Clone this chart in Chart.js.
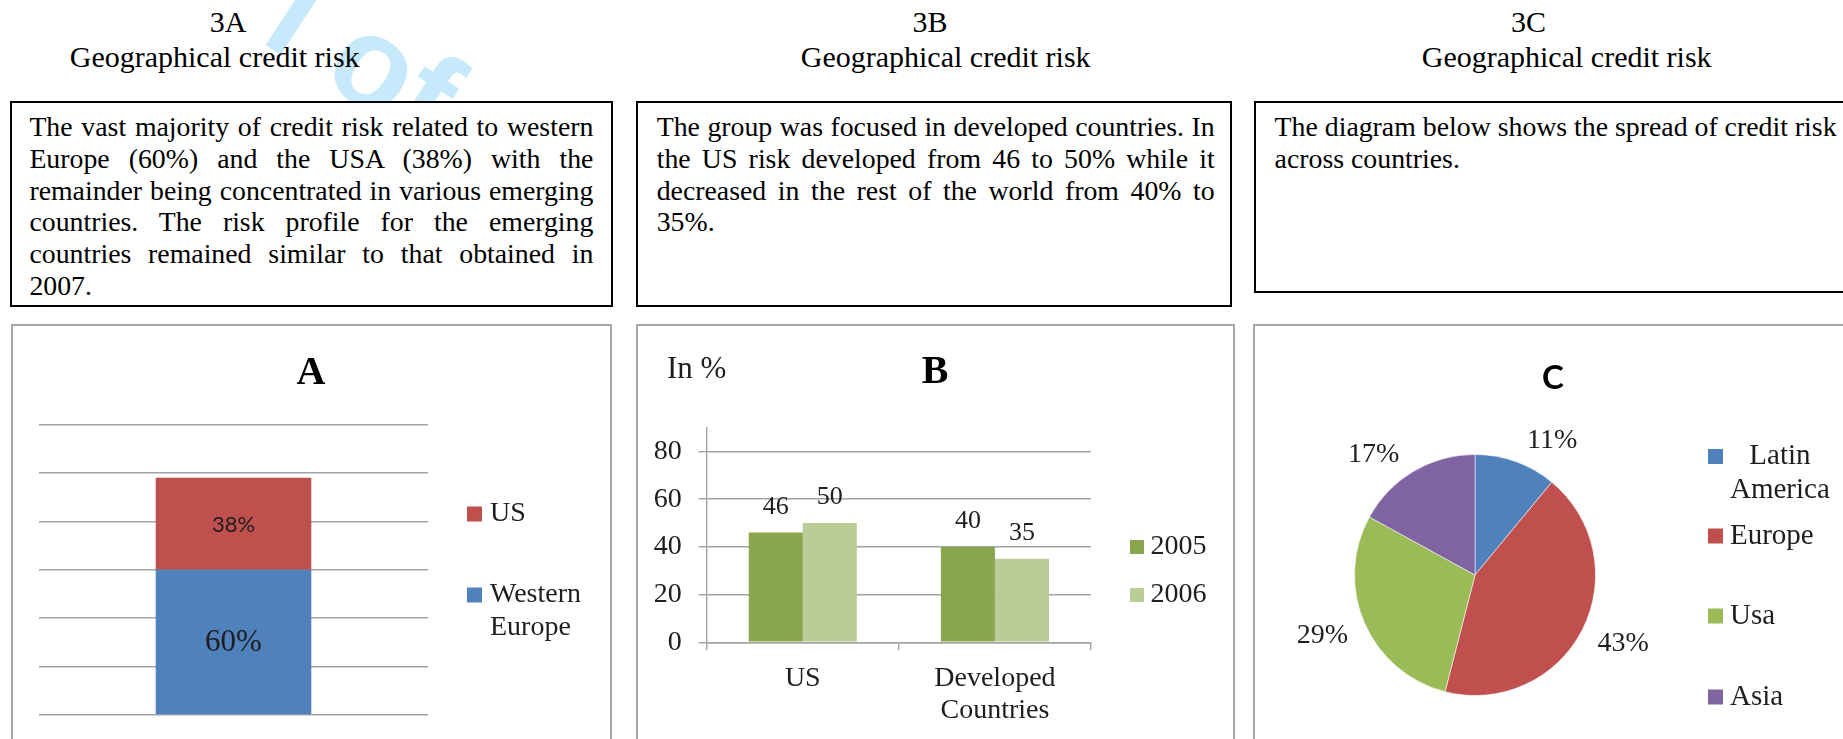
<!DOCTYPE html>
<html>
<head>
<meta charset="utf-8">
<title>Geographical credit risk</title>
<script src="https://cdn.jsdelivr.net/npm/chart.js@4.4.1/dist/chart.umd.min.js"></script>
<style>
html, body { margin:0; padding:0; background:#fff; }
#page { position:relative; width:1843px; height:739px; overflow:hidden; background:#fff;
        font-family:"Liberation Serif","Times New Roman",serif; color:#000; }
.wm { position:absolute; left:317.7px; top:-52px; font-family:"Liberation Sans", Arial, sans-serif; font-weight:bold;
      font-size:130px; line-height:130px; white-space:pre; color:#c6eafb; transform-origin:0 0; transform:rotate(33deg); }
.hd { position:absolute; font-size:30px; line-height:30px; white-space:nowrap; transform:translateX(-50%); }
.tb { position:absolute; box-sizing:border-box; border:2px solid #000; background:#fff;
      font-size:27.8px; line-height:31.7px; }
.cb { position:absolute; box-sizing:border-box; border:2px solid #a6a6a6; background:#fff; }
canvas { position:absolute; display:block; }
</style>
</head>
<body>
<div id="page">
  <div class="wm">l of</div>
  <div class="hd" style="left:228px;top:7px">3A</div>
  <div class="hd" style="left:214.7px;top:41.6px">Geographical credit risk</div>
  <div class="hd" style="left:930px;top:7px">3B</div>
  <div class="hd" style="left:945.7px;top:41.6px">Geographical credit risk</div>
  <div class="hd" style="left:1528.5px;top:7px">3C</div>
  <div class="hd" style="left:1566.7px;top:41.6px">Geographical credit risk</div>

  <div class="tb" style="left:10px;top:101px;width:603px;height:206px;padding:8.3px 17.6px 0 17.4px;text-align:justify">The vast majority of credit risk related to western Europe (60%) and the USA (38%) with the remainder being concentrated in various emerging countries. The risk profile for the emerging countries remained similar to that obtained in 2007.</div>
  <div class="tb" style="left:636px;top:101px;width:596px;height:206px;padding:8.3px 15.3px 0 18.7px;text-align:justify">The group was focused in developed countries. In the US risk developed from 46 to 50% while it decreased in the rest of the world from 40% to 35%.</div>
  <div class="tb" style="left:1254px;top:101px;width:700px;height:192px;padding:8.3px 77.4px 0 18.6px;text-align:left">The diagram below shows the spread of credit risk across countries.</div>

  <div class="cb" style="left:11px;top:324px;width:601px;height:440px"></div>
  <div class="cb" style="left:636px;top:324px;width:599px;height:440px"></div>
  <div class="cb" style="left:1253px;top:324px;width:700px;height:440px"></div>

  <canvas id="chartA" width="597" height="413" style="left:13px;top:326px;width:597px;height:413px"></canvas>
  <canvas id="chartB" width="595" height="413" style="left:638px;top:326px;width:595px;height:413px"></canvas>
  <canvas id="chartC" width="588" height="413" style="left:1255px;top:326px;width:588px;height:413px"></canvas>
</div>
<script>
// ---------------- data ----------------
// Chart A : stacked bar
const aCategories = ['Credit risk'];
const aSeriesNames = ['Western Europe', 'US'];
const aWesternEurope = [60];
const aUS = [38];
const aGridValues = [0, 20, 40, 60, 80, 100, 120];

// Chart B : grouped bar
const bCategories = ['US', ['Developed', 'Countries']];
const bSeriesNames = ['2005', '2006'];
const b2005 = [46, 40];
const b2006 = [50, 35];
const bTickValues = [0, 20, 40, 60, 80];

// Chart C : pie
const cRegions = ['Latin America', 'Europe', 'Usa', 'Asia'];
const cShares = [11, 43, 29, 17];

// ---------------- styles ----------------
const SERIF = '"Liberation Serif", "Times New Roman", serif';
const SANS = 'Lato, "Open Sans", sans-serif';
const TEXT = '#1e1e1e';
const GRID = '#a3a3a3';
const BLUE = '#4f81bd', RED = '#c0504d', GREEN = '#9bbb59', PURPLE = '#8064a2';
const DARKGREEN = '#89a54e', LIGHTGREEN = '#b9cd96';
// small angular nudges (degrees) for the outside pie labels, like the hand-placed originals
const cLabelShiftDeg = [8, 0, 0, -7];

Chart.defaults.animation = false;
Chart.defaults.responsive = false;
Chart.defaults.devicePixelRatio = 1;
Chart.defaults.plugins.legend.display = false;
Chart.defaults.plugins.tooltip.enabled = false;

function wrapWords(ctx, text, maxW) {
  const words = text.split(' ');
  const lines = [];
  let cur = '';
  words.forEach(w => {
    const t = cur ? cur + ' ' + w : w;
    if (cur && ctx.measureText(t).width > maxW) { lines.push(cur); cur = w; }
    else cur = t;
  });
  if (cur) lines.push(cur);
  return lines;
}

function drawLegend(ctx, items, o) {
  ctx.save();
  ctx.font = o.font;
  ctx.textBaseline = 'middle';
  items.forEach((it, i) => {
    const y = o.ys[i];
    ctx.fillStyle = it.color;
    ctx.fillRect(o.sqX, y - o.sq / 2, o.sq, o.sq);
    ctx.fillStyle = TEXT;
    const lines = wrapWords(ctx, it.text, o.wrap);
    const blockW = Math.max(...lines.map(l => ctx.measureText(l).width));
    lines.forEach((l, k) => {
      if (o.center) {
        ctx.textAlign = 'center';
        ctx.fillText(l, o.txtX + blockW / 2, y + k * o.lh);
      } else {
        ctx.textAlign = 'left';
        ctx.fillText(l, o.txtX, y + k * o.lh);
      }
    });
  });
  ctx.restore();
}

// ---------------- Chart A ----------------
const aLabelFonts = ['31px ' + SERIF, '22px ' + SANS];
const aDeco = {
  id: 'aDeco',
  afterDatasetsDraw(chart) {
    const ctx = chart.ctx;
    ctx.save();
    ctx.textAlign = 'center';
    ctx.textBaseline = 'middle';
    ctx.fillStyle = TEXT;
    chart.data.datasets.forEach((ds, i) => {
      chart.getDatasetMeta(i).data.forEach((bar, j) => {
        const p = bar.getProps(['x', 'y', 'base'], true);
        ctx.font = aLabelFonts[i];
        ctx.fillText(ds.data[j] + '%', p.x, (p.y + p.base) / 2 + 1);
      });
    });
    ctx.restore();
  },
  afterDraw(chart) {
    const ctx = chart.ctx;
    ctx.save();
    ctx.font = 'bold 40px ' + SERIF;
    ctx.fillStyle = '#000';
    ctx.textAlign = 'center';
    ctx.textBaseline = 'alphabetic';
    ctx.fillText('A', 298, 58);
    ctx.restore();
    const ds = chart.data.datasets;
    drawLegend(ctx, [
      { text: ds[1].label, color: ds[1].backgroundColor },
      { text: ds[0].label, color: ds[0].backgroundColor }
    ], { font: '28px ' + SERIF, sqX: 454, sq: 15, txtX: 477, ys: [188, 269], lh: 33, wrap: 115, center: false });
  }
};

new Chart(document.getElementById('chartA'), {
  type: 'bar',
  data: {
    labels: aCategories,
    datasets: [
      { label: aSeriesNames[0], data: aWesternEurope, backgroundColor: BLUE },
      { label: aSeriesNames[1], data: aUS, backgroundColor: RED }
    ]
  },
  options: {
    layout: { padding: { left: 26, right: 182, top: 98.5, bottom: 24 } },
    datasets: { bar: { categoryPercentage: 0.4, barPercentage: 1 } },
    scales: {
      x: { stacked: true, display: false },
      y: {
        stacked: true, min: 0, max: 120,
        afterBuildTicks(scale) { scale.ticks = aGridValues.map(v => ({ value: v })); },
        afterFit(scale) { scale.width = 0; },
        ticks: { display: false },
        border: { display: false },
        grid: { color: GRID, lineWidth: 1.4, drawTicks: false }
      }
    }
  },
  plugins: [aDeco]
});

// ---------------- Chart B ----------------
const bDeco = {
  id: 'bDeco',
  afterDatasetsDraw(chart) {
    const ctx = chart.ctx;
    ctx.save();
    ctx.font = '26px ' + SERIF;
    ctx.fillStyle = TEXT;
    ctx.textAlign = 'center';
    ctx.textBaseline = 'middle';
    chart.data.datasets.forEach((ds, i) => {
      chart.getDatasetMeta(i).data.forEach((bar, j) => {
        const p = bar.getProps(['x', 'y'], true);
        ctx.fillText(String(ds.data[j]), p.x, p.y - 25.5);
      });
    });
    ctx.restore();
  },
  afterDraw(chart) {
    const ctx = chart.ctx;
    ctx.save();
    ctx.fillStyle = '#000';
    ctx.textBaseline = 'alphabetic';
    ctx.font = 'bold 40px ' + SERIF;
    ctx.textAlign = 'center';
    ctx.fillText('B', 297, 57.3);
    ctx.font = '31px ' + SERIF;
    ctx.textAlign = 'left';
    ctx.fillStyle = TEXT;
    ctx.fillText('In %', 29, 52.3);
    ctx.restore();
    const ds = chart.data.datasets;
    drawLegend(ctx, ds.map(d => ({ text: d.label, color: d.backgroundColor })),
      { font: '28px ' + SERIF, sqX: 492, sq: 14, txtX: 512.6, ys: [221, 269], lh: 32, wrap: 200, center: false });
  }
};

new Chart(document.getElementById('chartB'), {
  type: 'bar',
  data: {
    labels: bCategories,
    datasets: [
      { label: bSeriesNames[0], data: b2005, backgroundColor: DARKGREEN },
      { label: bSeriesNames[1], data: b2006, backgroundColor: LIGHTGREEN }
    ]
  },
  options: {
    layout: { padding: { left: 0, right: 142, top: 101.6, bottom: 0 } },
    datasets: { bar: { categoryPercentage: 0.5625, barPercentage: 1 } },
    scales: {
      x: {
        afterFit(scale) { scale.height = 96.7; },
        grid: { offset: true, drawOnChartArea: false, drawTicks: true, tickLength: 8, color: GRID, lineWidth: 1.4 },
        border: { display: true, color: GRID, width: 1.4 },
        ticks: { color: TEXT, padding: 12.2, maxRotation: 0, autoSkip: false,
                 font: { family: SERIF, size: 28, lineHeight: 32 / 28 } }
      },
      y: {
        min: 0, max: 90,
        afterBuildTicks(scale) { scale.ticks = bTickValues.map(v => ({ value: v })); },
        afterFit(scale) { scale.width = 68.7; },
        grid: { color: GRID, lineWidth: 1.4, drawTicks: true, tickLength: 8 },
        border: { display: true, color: GRID, width: 1.4 },
        ticks: { color: TEXT, padding: 17, font: { family: SERIF, size: 28 } }
      }
    }
  },
  plugins: [bDeco]
});

// ---------------- Chart C ----------------
const cDeco = {
  id: 'cDeco',
  afterDatasetsDraw(chart) {
    const ctx = chart.ctx;
    ctx.save();
    ctx.font = '28px ' + SERIF;
    ctx.fillStyle = TEXT;
    ctx.textAlign = 'center';
    ctx.textBaseline = 'middle';
    const ds = chart.data.datasets[0];
    chart.getDatasetMeta(0).data.forEach((arc, j) => {
      const p = arc.getProps(['x', 'y', 'startAngle', 'endAngle', 'outerRadius'], true);
      const mid = (p.startAngle + p.endAngle) / 2 + cLabelShiftDeg[j] * Math.PI / 180;
      const ux = Math.cos(mid), uy = Math.sin(mid);
      const txt = ds.data[j] + '%';
      const w = ctx.measureText(txt).width, h = 22;
      const d = p.outerRadius + 20;
      ctx.fillText(txt, p.x + ux * d + ux * w / 2, p.y + uy * d + uy * h / 2);
    });
    ctx.restore();
  },
  afterDraw(chart) {
    const ctx = chart.ctx;
    ctx.save();
    ctx.font = 'bold 33px ' + SANS;
    ctx.fillStyle = '#000';
    ctx.textAlign = 'center';
    ctx.textBaseline = 'alphabetic';
    ctx.fillText('C', 298, 62.8);
    ctx.restore();
    const ds = chart.data.datasets[0];
    drawLegend(ctx, chart.data.labels.map((l, i) => ({ text: l, color: ds.backgroundColor[i] })),
      { font: '29px ' + SERIF, sqX: 453, sq: 15, txtX: 475, ys: [130.5, 210, 290, 371], lh: 33.5, wrap: 110, center: true });
  }
};

new Chart(document.getElementById('chartC'), {
  type: 'pie',
  data: {
    labels: cRegions,
    datasets: [{
      data: cShares,
      backgroundColor: [BLUE, RED, GREEN, PURPLE],
      borderColor: 'rgba(255,255,255,0.55)',
      borderWidth: 1
    }]
  },
  options: {
    layout: { padding: { left: 99, right: 247, top: 128, bottom: 43 } }
  },
  plugins: [cDeco]
});
</script>
</body>
</html>
